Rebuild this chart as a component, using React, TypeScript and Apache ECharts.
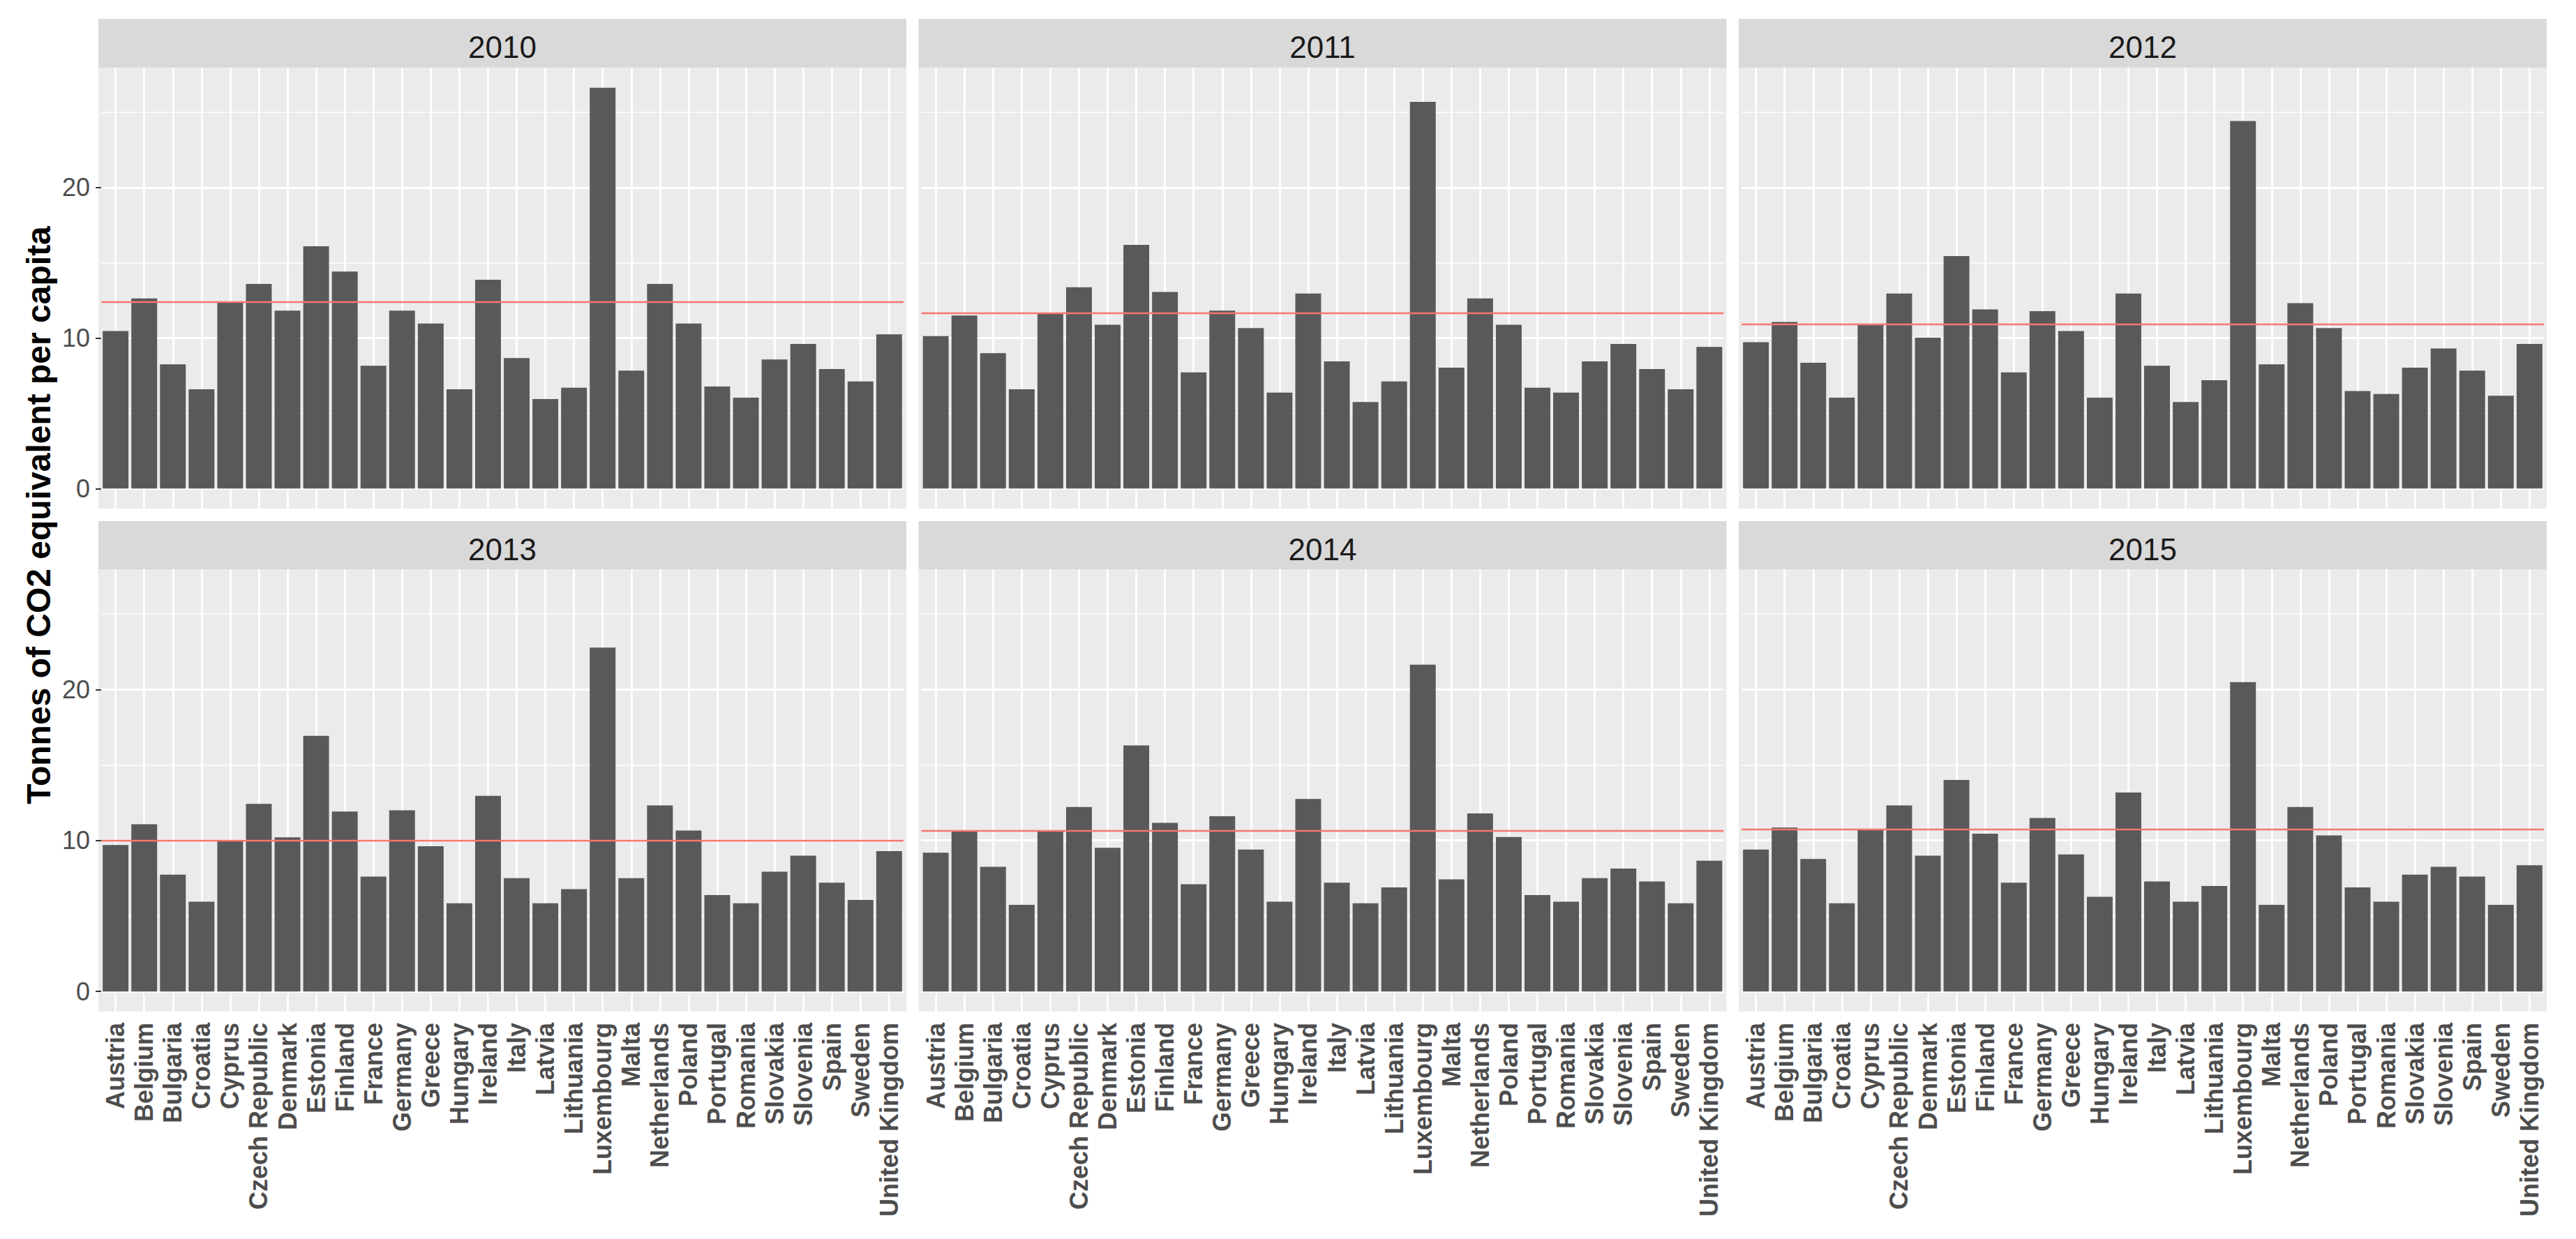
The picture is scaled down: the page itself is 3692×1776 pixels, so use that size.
import React, { useEffect, useRef } from "react";
import * as echarts from "echarts";

// ---------- data ----------
const countries = [
  "Austria", "Belgium", "Bulgaria", "Croatia", "Cyprus", "Czech Republic", "Denmark",
  "Estonia", "Finland", "France", "Germany", "Greece", "Hungary", "Ireland", "Italy",
  "Latvia", "Lithuania", "Luxembourg", "Malta", "Netherlands", "Poland", "Portugal",
  "Romania", "Slovakia", "Slovenia", "Spain", "Sweden", "United Kingdom",
];

const years = ["2010", "2011", "2012", "2013", "2014", "2015"];

const co2_2010 = [10.46, 12.63, 8.25, 6.59, 12.39, 13.59, 11.82, 16.1, 14.42, 8.16, 11.82, 10.96, 6.59, 13.87, 8.67, 5.95, 6.7, 26.63, 7.83, 13.59, 10.96, 6.78, 6.04, 8.58, 9.61, 7.94, 7.11, 10.24];
const co2_2011 = [10.13, 11.49, 8.99, 6.59, 11.66, 13.37, 10.88, 16.19, 13.06, 7.72, 11.82, 10.66, 6.37, 12.95, 8.45, 5.75, 7.11, 25.69, 8.03, 12.63, 10.88, 6.7, 6.37, 8.45, 9.61, 7.94, 6.59, 9.41];
const co2_2012 = [9.72, 11.07, 8.36, 6.04, 10.94, 12.95, 10.02, 15.45, 11.9, 7.72, 11.79, 10.46, 6.04, 12.95, 8.16, 5.75, 7.2, 24.42, 8.25, 12.32, 10.66, 6.48, 6.28, 8.03, 9.3, 7.83, 6.17, 9.61];
const co2_2013 = [9.7, 11.07, 7.74, 5.95, 9.98, 12.43, 10.21, 16.93, 11.92, 7.61, 12.0, 9.62, 5.84, 12.96, 7.51, 5.84, 6.78, 22.77, 7.51, 12.32, 10.66, 6.38, 5.84, 7.93, 9.0, 7.21, 6.06, 9.3];
const co2_2014 = [9.19, 10.62, 8.25, 5.74, 10.62, 12.22, 9.51, 16.29, 11.17, 7.1, 11.6, 9.4, 5.95, 12.75, 7.21, 5.84, 6.89, 21.64, 7.42, 11.79, 10.23, 6.38, 5.95, 7.51, 8.14, 7.29, 5.84, 8.66];
const co2_2015 = [9.4, 10.85, 8.78, 5.84, 10.7, 12.32, 9.0, 14.01, 10.45, 7.21, 11.49, 9.08, 6.27, 13.18, 7.29, 5.95, 6.99, 20.49, 5.74, 12.22, 10.34, 6.89, 5.95, 7.74, 8.25, 7.61, 5.74, 8.36];

const referenceLines = [12.41, 11.66, 10.92, 10.0, 10.64, 10.72];

const yMajorTicks = [0, 10, 20];
const yMinorTicks = [5, 15, 25];

const yTitle = "Tonnes of CO2 equivalent per capita";

// ---------- layout / style ----------
const W = 3692;
const H = 1776;
const FONT = "'Liberation Sans', Arial, sans-serif";
const PANEL_LEFTS = [141, 1316.5, 2492];
const PANEL_W = 1158;
const STRIP_TOPS = [27, 747];
const PLOT_TOPS = [97, 816];
const PLOT_BOTTOMS = [729, 1450];

export default function App() {
  const ref = useRef<HTMLDivElement>(null);

  useEffect(() => {
    document.body.style.margin = "0";
    if (!ref.current) return;
    const chart = echarts.init(ref.current, undefined, { renderer: "svg", width: W, height: H });

    const yearValues = [co2_2010, co2_2011, co2_2012, co2_2013, co2_2014, co2_2015];
    const M = Math.max(...yearValues.map((v) => Math.max(...v)));
    const yMin = -0.05 * M;
    const yMax = 1.05 * M;
    const n = countries.length;
    const band = PANEL_W / (n + 0.2);

    const grids: any[] = [];
    const xAxes: any[] = [];
    const yAxes: any[] = [];
    const series: any[] = [];
    const graphics: any[] = [];

    years.forEach((yr, i) => {
      const row = Math.floor(i / 3);
      const col = i % 3;
      const pLeft = PANEL_LEFTS[col];
      const top = PLOT_TOPS[row];
      const bottom = PLOT_BOTTOMS[row];

      // panel background
      graphics.push({
        type: "rect",
        z: -100,
        silent: true,
        shape: { x: pLeft, y: top, width: PANEL_W, height: bottom - top },
        style: { fill: "#EBEBEB" },
      });
      // strip
      graphics.push({
        type: "rect",
        z: -100,
        silent: true,
        shape: { x: pLeft, y: STRIP_TOPS[row], width: PANEL_W, height: top - STRIP_TOPS[row] },
        style: { fill: "#D9D9D9" },
      });
      graphics.push({
        type: "text",
        z: 10,
        silent: true,
        x: pLeft + PANEL_W / 2,
        y: STRIP_TOPS[row] + 40,
        style: {
          text: yr,
          font: `44px ${FONT}`,
          fill: "#1A1A1A",
          textAlign: "center",
          textVerticalAlign: "middle",
        },
      });

      grids.push({
        left: pLeft + 0.1 * band,
        top,
        width: band * n,
        height: bottom - top,
        containLabel: false,
      });

      xAxes.push({
        type: "category",
        gridIndex: i,
        data: countries,
        boundaryGap: true,
        axisLine: { show: false },
        axisTick: {
          show: row === 1,
          alignWithLabel: true,
          length: 8,
          lineStyle: { color: "#333333", width: 2 },
        },
        axisLabel: {
          show: row === 1,
          interval: 0,
          rotate: 90,
          margin: 16,
          fontFamily: FONT,
          fontWeight: "bold",
          fontSize: 36,
          color: "#4D4D4D",
        },
        splitLine: { show: false },
      });

      yAxes.push({
        type: "value",
        gridIndex: i,
        min: yMin,
        max: yMax,
        axisLine: { show: false },
        axisTick: {
          show: col === 0,
          customValues: yMajorTicks,
          length: 8,
          lineStyle: { color: "#333333", width: 2 },
        },
        axisLabel: {
          show: col === 0,
          customValues: yMajorTicks,
          margin: 16,
          fontFamily: FONT,
          fontSize: 36,
          color: "#4D4D4D",
        },
        splitLine: { show: false },
      });

      const white = (w: number) => ({ color: "#FFFFFF", width: w, type: "solid", opacity: 1 });

      // gridlines (behind bars)
      series.push({
        type: "line",
        xAxisIndex: i,
        yAxisIndex: i,
        data: yearValues[i],
        symbol: "none",
        showSymbol: false,
        silent: true,
        z: 1,
        lineStyle: { opacity: 0, width: 0 },
        emphasis: { disabled: true },
        markLine: {
          silent: true,
          z: 1,
          symbol: ["none", "none"],
          label: { show: false },
          emphasis: { disabled: true },
          lineStyle: white(2.8),
          data: [
            ...yMinorTicks.map((v) => ({ yAxis: v, lineStyle: white(1.6) })),
            ...yMajorTicks.map((v) => ({ yAxis: v, lineStyle: white(2.8) })),
            ...countries.map((c) => ({ xAxis: c, lineStyle: white(2.8) })),
          ],
        },
      });

      // bars + reference line
      series.push({
        type: "bar",
        xAxisIndex: i,
        yAxisIndex: i,
        data: yearValues[i],
        barWidth: "90%",
        silent: true,
        z: 2,
        itemStyle: { color: "#595959" },
        emphasis: { disabled: true },
        markLine: {
          silent: true,
          z: 5,
          symbol: ["none", "none"],
          label: { show: false },
          emphasis: { disabled: true },
          lineStyle: { color: "#F8766D", width: 2.4, type: "solid", opacity: 1 },
          data: [{ yAxis: referenceLines[i] }],
        },
      });
    });

    // y-axis title
    graphics.push({
      type: "text",
      z: 10,
      silent: true,
      x: 55,
      y: (STRIP_TOPS[0] + PLOT_BOTTOMS[1]) / 2,
      rotation: Math.PI / 2,
      style: {
        text: yTitle,
        font: `bold 48px ${FONT}`,
        fill: "#000000",
        textAlign: "center",
        textVerticalAlign: "middle",
      },
    });

    chart.setOption({
      animation: false,
      backgroundColor: "#FFFFFF",
      grid: grids,
      xAxis: xAxes,
      yAxis: yAxes,
      series,
      graphic: { elements: graphics },
    });

    return () => chart.dispose();
  }, []);

  return (
    <div
      ref={ref}
      style={{ position: "absolute", left: 0, top: 0, width: W, height: H, background: "#FFFFFF" }}
    />
  );
}
